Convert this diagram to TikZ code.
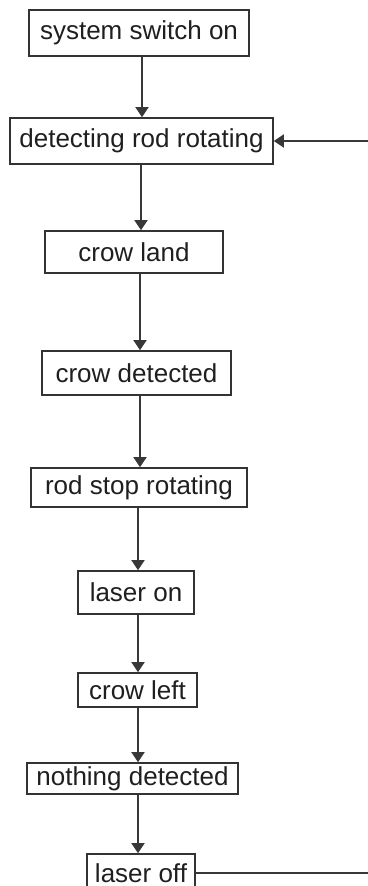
\documentclass[tikz,border=0pt]{standalone}
\usepackage{fontspec}
\setmainfont{Liberation Sans}
\usetikzlibrary{arrows.meta}
\begin{document}
\begin{tikzpicture}[x=1pt,y=-1pt,
  stepbox/.style={draw=black!80, line width=1.6pt, inner sep=0pt, fill=white,
    font=\fontsize{26}{29}\selectfont, text=black!88},
  conn/.style={draw=black!78, line width=1.6pt, -{Triangle[width=13pt,length=10pt]}}]
\useasboundingbox (0,0) rectangle (367,886);
\node[stepbox, minimum width=220pt, minimum height=46pt] (sw)   at (139,33)    {system switch on};
\node[stepbox, minimum width=263pt, minimum height=46pt] (rot)  at (141.5,141) {detecting rod rotating};
\node[stepbox, minimum width=178pt, minimum height=42pt] (land) at (134,252)   {crow land};
\node[stepbox, minimum width=189pt, minimum height=44pt] (det)  at (136.5,373) {crow detected};
\node[stepbox, minimum width=216pt, minimum height=39pt] (stop) at (139,487.5) {rod stop rotating};
\node[stepbox, minimum width=116pt, minimum height=43pt] (lon)  at (136,592.5) {laser on};
\node[stepbox, minimum width=119pt, minimum height=34pt] (left) at (137.5,690)  {crow left};
\node[stepbox, minimum width=211pt, minimum height=31pt] (none) at (132.5,778.5) {nothing detected};
\node[stepbox, minimum width=108pt, minimum height=38pt] (loff) at (141,873)  {laser off};
\coordinate (fbB) at (372,873);
\coordinate (fbT) at (372,141);
\draw[conn] ([xshift=3pt]sw.south) -- ([xshift=3pt]sw.south |- rot.north);
\draw[conn] ([xshift=-0.5pt]rot.south) -- ([xshift=-0.5pt]rot.south |- land.north);
\draw[conn] ([xshift=6pt]land.south) -- ([xshift=6pt]land.south |- det.north);
\draw[conn] ([xshift=3.5pt]det.south) -- ([xshift=3.5pt]det.south |- stop.north);
\draw[conn] ([xshift=-1pt]stop.south) -- ([xshift=-1pt]stop.south |- lon.north);
\draw[conn] ([xshift=2pt]lon.south) -- ([xshift=2pt]lon.south |- left.north);
\draw[conn] ([xshift=0.5pt]left.south) -- ([xshift=0.5pt]left.south |- none.north);
\draw[conn] ([xshift=5.5pt]none.south) -- ([xshift=5.5pt]none.south |- loff.north);
\draw[conn] (loff.east) -- (fbB) -- (fbT) -- (rot.east);
\end{tikzpicture}
\end{document}
